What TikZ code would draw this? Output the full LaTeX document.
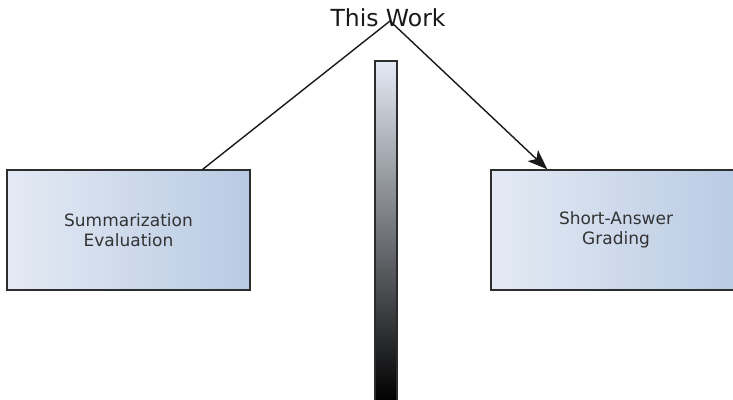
\documentclass[tikz,border=0pt]{standalone}
\usepackage{fontspec}
\setmainfont{DejaVu Sans}
\usetikzlibrary{arrows.meta,positioning}
\definecolor{paleBlue}{RGB}{228, 234, 244}
\definecolor{midBlue}{RGB}{184, 202, 227}
\definecolor{edgeGray}{RGB}{45, 45, 45}

\begin{document}
\begin{tikzpicture}[
  x=1pt, y=-1pt,
  task/.style={draw=edgeGray, line width=1.3pt, left color=paleBlue, right color=midBlue,
               align=center, minimum height=120pt, text=black!80,
               font=\fontsize{17}{20}\selectfont, inner sep=0pt},
  link/.style={line width=1.4pt, draw=black!90},
  arrow/.style={link, -{Stealth[length=20pt, width=15pt, inset=5pt]}}
]
\useasboundingbox (0,0) rectangle (733,399);
\node[font=\fontsize{23.5}{27}\selectfont, text=black!90] (title) at (388,18) {This Work};
\coordinate (peak) at (390,21);
\node[task, minimum width=243pt] (summ) at (128.5,230) {Summarization\\Evaluation};
\node[task, minimum width=250pt] (sag) at (616,230) {Short-Answer\\Grading};
% divider bar, fading to black at the bottom
\node[draw=edgeGray, line width=1.2pt, top color=paleBlue, bottom color=black,
      minimum width=22pt, minimum height=341pt, inner sep=0pt] (bar) at (386,231.5) {};
\draw[link] ([xshift=-48pt]summ.north east) -- (peak);
\draw[arrow] (peak) -- ([xshift=57pt]sag.north west);
\end{tikzpicture}
\end{document}
